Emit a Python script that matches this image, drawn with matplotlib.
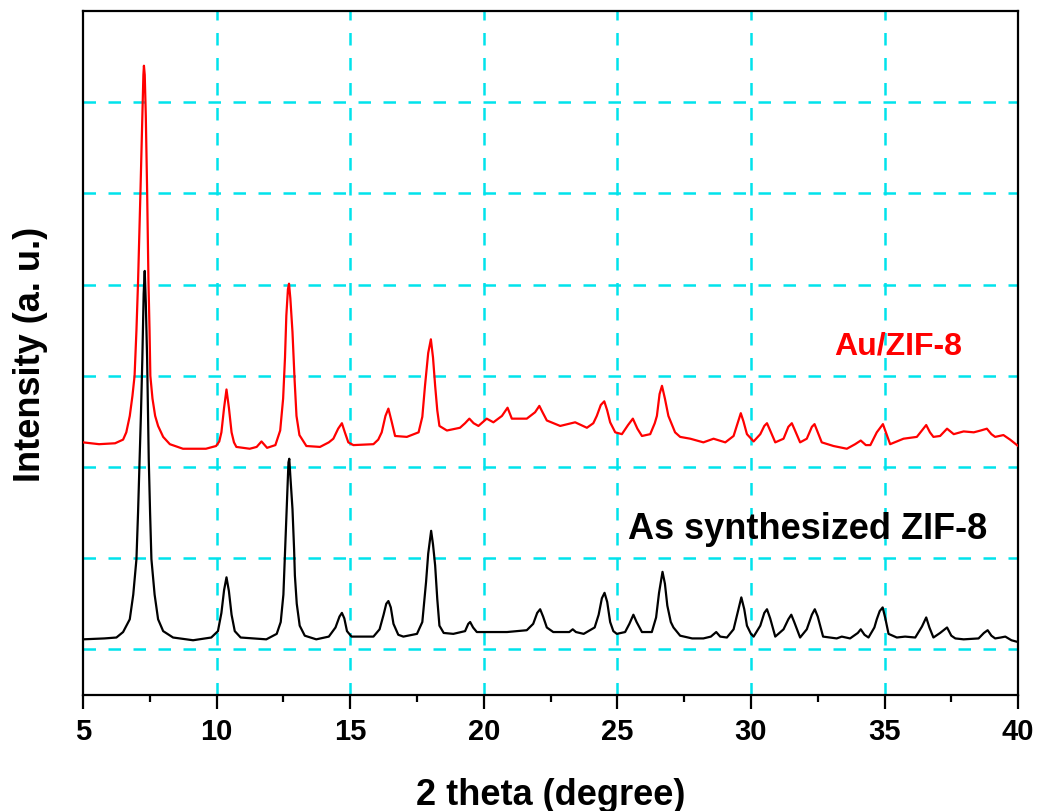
import matplotlib
matplotlib.use("Agg")
import matplotlib.pyplot as plt
from matplotlib.ticker import MultipleLocator

# ---- data ----
au_x = [5.00, 5.60, 6.20, 6.50, 6.62, 6.75, 6.85, 6.93, 7.00, 7.06, 7.15, 7.22, 7.26, 7.28, 7.31,
        7.35, 7.40, 7.45, 7.49, 7.52, 7.60, 7.70, 7.81, 8.00, 8.25, 8.74, 9.60, 9.98, 10.10,
        10.18, 10.28, 10.37, 10.46, 10.56, 10.65, 10.74, 11.24, 11.50, 11.68, 11.89, 12.20,
        12.38, 12.49, 12.56, 12.61, 12.67, 12.71, 12.76, 12.84, 12.92, 12.99, 13.10, 13.36,
        13.87, 14.20, 14.37, 14.55, 14.69, 14.80, 14.93, 15.12, 15.87, 16.05, 16.18, 16.32,
        16.43, 16.55, 16.68, 17.12, 17.56, 17.70, 17.80, 17.92, 18.02, 18.10, 18.18, 18.26,
        18.34, 18.62, 19.11, 19.30, 19.46, 19.62, 19.80, 20.11, 20.36, 20.68, 20.89, 21.05,
        21.61, 21.92, 22.08, 22.20, 22.36, 22.86, 23.42, 23.86, 24.10, 24.23, 24.38, 24.51,
        24.62, 24.73, 24.92, 25.17, 25.40, 25.58, 25.75, 25.92, 26.23, 26.40, 26.48, 26.58,
        26.67, 26.78, 26.91, 27.16, 27.35, 27.73, 28.22, 28.60, 29.04, 29.35, 29.50, 29.62,
        29.72, 29.85, 30.10, 30.35, 30.50, 30.60, 30.72, 30.91, 31.22, 31.40, 31.53, 31.65,
        31.84, 32.09, 32.28, 32.38, 32.50, 32.65, 33.09, 33.59, 33.90, 34.11, 34.30, 34.47,
        34.71, 34.94, 35.05, 35.21, 35.71, 36.21, 36.40, 36.56, 36.70, 36.83, 37.08, 37.34,
        37.59, 37.96, 38.34, 38.60, 38.83, 39.00, 39.14, 39.45, 39.70, 40.00]
au_y = [3.27, 3.25, 3.26, 3.30, 3.38, 3.56, 3.78, 4.00, 4.50, 5.03, 6.02, 6.85, 7.30, 7.40, 7.30,
        6.85, 6.02, 5.03, 4.50, 4.00, 3.75, 3.56, 3.45, 3.33, 3.25, 3.20, 3.20, 3.23, 3.28,
        3.38, 3.65, 3.85, 3.65, 3.38, 3.27, 3.22, 3.20, 3.22, 3.28, 3.21, 3.24,
        3.40, 3.75, 4.20, 4.66, 4.95, 5.01, 4.85, 4.48, 3.95, 3.56, 3.35, 3.23,
        3.22, 3.27, 3.31, 3.42, 3.48, 3.38, 3.27, 3.24, 3.25, 3.30, 3.38, 3.56,
        3.64, 3.50, 3.34, 3.33, 3.38, 3.55, 3.89, 4.25, 4.40, 4.20, 3.89, 3.62,
        3.45, 3.40, 3.43, 3.48, 3.53, 3.48, 3.45, 3.53, 3.49, 3.56, 3.65, 3.53,
        3.53, 3.60, 3.67, 3.60, 3.51, 3.45, 3.49, 3.43, 3.48, 3.56, 3.68, 3.72,
        3.62, 3.49, 3.38, 3.36, 3.46, 3.53, 3.42, 3.34, 3.36, 3.48, 3.56, 3.80,
        3.89, 3.75, 3.56, 3.38, 3.33, 3.31, 3.27, 3.31, 3.27, 3.34, 3.48, 3.59,
        3.50, 3.36, 3.28, 3.36, 3.45, 3.48, 3.40, 3.27, 3.31, 3.44, 3.48, 3.40,
        3.27, 3.31, 3.44, 3.47, 3.38, 3.27, 3.23, 3.20, 3.25, 3.29, 3.24, 3.24,
        3.38, 3.47, 3.38, 3.25, 3.31, 3.33, 3.40, 3.46, 3.38, 3.33, 3.34, 3.42,
        3.36, 3.39, 3.38, 3.40, 3.42, 3.36, 3.33, 3.35, 3.30, 3.23]

zif_x = [5.00, 5.80, 6.25, 6.50, 6.75, 6.88, 7.00, 7.06, 7.12, 7.17, 7.22, 7.27, 7.31, 7.35, 7.40,
         7.43, 7.46, 7.51, 7.56, 7.68, 7.81, 8.00, 8.37, 9.12, 9.80, 10.05, 10.18, 10.28, 10.37,
         10.46, 10.56, 10.68, 10.90, 11.86, 12.25, 12.40, 12.50, 12.55, 12.60, 12.64, 12.69,
         12.72, 12.76, 12.84, 12.90, 12.93, 13.00, 13.11, 13.30, 13.73, 14.20, 14.45, 14.60,
         14.69, 14.78, 14.88, 15.05, 15.87, 16.10, 16.25, 16.35, 16.43, 16.52, 16.62, 16.80,
         16.99, 17.50, 17.70, 17.84, 17.92, 18.03, 18.10, 18.18, 18.26, 18.34, 18.50, 18.86,
         19.30, 19.42, 19.49, 19.60, 19.74, 20.87, 21.61, 21.85, 22.00, 22.11, 22.22, 22.36,
         22.60, 22.86, 23.20, 23.33, 23.45, 23.74, 24.15, 24.30, 24.42, 24.52, 24.62, 24.73,
         24.85, 24.98, 25.29, 25.45, 25.60, 25.72, 25.92, 26.29, 26.45, 26.56, 26.69, 26.78,
         26.87, 27.00, 27.10, 27.35, 27.80, 28.22, 28.50, 28.70, 28.85, 29.10, 29.35, 29.50,
         29.64, 29.75, 29.85, 30.00, 30.10, 30.35, 30.50, 30.60, 30.72, 30.91, 31.22, 31.40,
         31.51, 31.62, 31.84, 32.09, 32.28, 32.39, 32.50, 32.70, 33.21, 33.40, 33.71, 34.00,
         34.11, 34.25, 34.40, 34.62, 34.71, 34.82, 34.93, 35.03, 35.15, 35.46, 35.77, 36.15,
         36.40, 36.56, 36.68, 36.83, 37.08, 37.34, 37.50, 37.65, 37.96, 38.52, 38.72, 38.86,
         39.00, 39.14, 39.35, 39.52, 39.75, 40.00]
zif_y = [1.11, 1.12, 1.13, 1.19, 1.33, 1.60, 1.99, 2.50, 3.09, 3.60, 4.18, 4.90, 5.15, 4.80, 4.18,
         3.60, 3.09, 2.50, 1.99, 1.60, 1.33, 1.20, 1.13, 1.10, 1.13, 1.20, 1.40, 1.65, 1.79,
         1.64, 1.38, 1.20, 1.13, 1.11, 1.17, 1.30, 1.60, 1.99, 2.40, 2.72, 3.05,
         3.09, 2.90, 2.54, 2.10, 1.81, 1.50, 1.26, 1.15, 1.11, 1.14, 1.24, 1.36,
         1.40, 1.34, 1.20, 1.14, 1.14, 1.22, 1.38, 1.50, 1.53, 1.46, 1.28, 1.16,
         1.14, 1.17, 1.30, 1.74, 2.05, 2.30, 2.15, 1.92, 1.55, 1.26, 1.18, 1.17,
         1.20, 1.28, 1.30, 1.24, 1.19, 1.19, 1.21, 1.28, 1.40, 1.44, 1.36, 1.24,
         1.19, 1.19, 1.19, 1.22, 1.19, 1.17, 1.24, 1.38, 1.56, 1.62, 1.52, 1.30,
         1.20, 1.17, 1.19, 1.28, 1.38, 1.30, 1.19, 1.19, 1.35, 1.62, 1.85, 1.72,
         1.48, 1.30, 1.24, 1.15, 1.12, 1.12, 1.14, 1.19, 1.14, 1.13, 1.22, 1.40,
         1.57, 1.44, 1.26, 1.17, 1.14, 1.26, 1.40, 1.44, 1.34, 1.14, 1.22, 1.33,
         1.38, 1.30, 1.13, 1.22, 1.38, 1.44, 1.36, 1.14, 1.12, 1.14, 1.12, 1.18,
         1.22, 1.16, 1.13, 1.24, 1.33, 1.42, 1.46, 1.34, 1.17, 1.13, 1.14, 1.13,
         1.25, 1.35, 1.24, 1.13, 1.18, 1.24, 1.15, 1.12, 1.11, 1.12, 1.18, 1.21,
         1.15, 1.12, 1.13, 1.14, 1.10, 1.08]

x_ticks = [5, 10, 15, 20, 25, 30, 35, 40]
y_grid = [1, 2, 3, 4, 5, 6, 7]
label_au = "Au/ZIF-8"
label_zif = "As synthesized ZIF-8"

# ---- figure ----
plt.rcParams['font.family'] = ['Liberation Sans', 'DejaVu Sans']
fig = plt.figure(figsize=(10.39, 8.12), dpi=100)
ax = fig.add_axes([0.0799, 0.1429, 0.9000, 0.8423])

grid_color = '#00E3EC'
for gx in x_ticks[1:-1]:
    ax.axvline(gx, color=grid_color, lw=1.8, dashes=(5, 5), zorder=1)
for gy in y_grid:
    ax.axhline(gy, color=grid_color, lw=1.8, dashes=(5, 5), zorder=1)

ax.plot(au_x, au_y, color='#FF0000', lw=1.6, zorder=3)
ax.plot(zif_x, zif_y, color='black', lw=1.6, zorder=3)

ax.set_xlim(5, 40)
ax.set_ylim(0.5, 8.0)
ax.set_xticks(x_ticks)
ax.xaxis.set_minor_locator(MultipleLocator(2.5))
ax.set_yticks([])
ax.tick_params(axis='x', which='major', direction='out', length=10, width=1.6,
               labelsize=21, pad=6)
ax.tick_params(axis='x', which='minor', direction='out', length=5, width=1.6)
for lab in ax.get_xticklabels():
    lab.set_fontweight('bold')
for s in ax.spines.values():
    s.set_linewidth(1.6)

ax.set_xlabel('2 theta (degree)', fontsize=26, fontweight='bold', labelpad=23)
ax.set_ylabel('Intensity (a. u.)', fontsize=26, fontweight='bold', labelpad=25)

ax.text(33.1, 4.33, label_au, color='#FF0000', fontsize=23, fontweight='bold',
        ha='left', va='center', zorder=4)
ax.text(25.4, 2.32, label_zif, color='black', fontsize=26, fontweight='bold',
        ha='left', va='center', zorder=4)

fig.savefig('out.png', dpi=100)
